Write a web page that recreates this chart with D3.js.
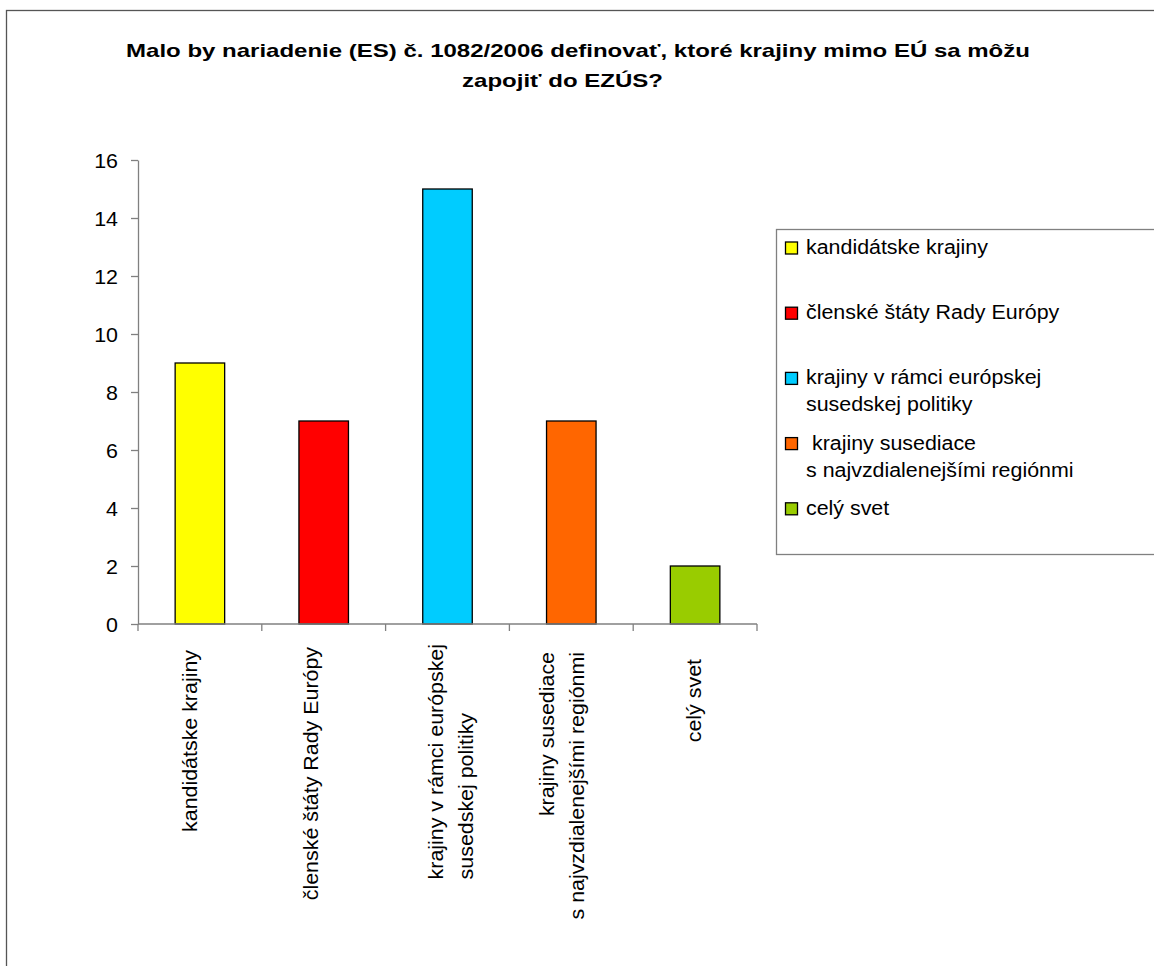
<!DOCTYPE html>
<html>
<head>
<meta charset="utf-8">
<script src="https://cdn.jsdelivr.net/npm/d3@7"></script>
<style>
  html, body { margin: 0; padding: 0; background: #fff; overflow: hidden; }
  svg { display: block; font-family: "Liberation Sans", Arial, sans-serif; }
  text { white-space: pre; }
</style>
</head>
<body>
<svg id="chart" width="1154" height="966"></svg>
<script>
// Data
const categories = ["kandidátske krajiny", "členské štáty Rady Európy", "krajiny v rámci európskej susedskej politiky", "krajiny susediace s najvzdialenejšími regiónmi", "celý svet"];
const values = [9, 7, 15, 7, 2];
const colors = ["#FFFF00", "#FF0000", "#00CCFF", "#FF6600", "#99CC00"];
const axisLabelLines = [
  ["kandidátske krajiny"],
  ["členské štáty Rady Európy"],
  ["krajiny v rámci európskej", "susedskej politiky"],
  ["krajiny susediace", "s najvzdialenejšími regiónmi"],
  ["celý svet"]
];
const legendLines = [
  ["kandidátske krajiny"],
  ["členské štáty Rady Európy"],
  ["krajiny v rámci európskej", "susedskej politiky"],
  [" krajiny susediace", "s najvzdialenejšími regiónmi"],
  ["celý svet"]
];
const yTicks = [0, 2, 4, 6, 8, 10, 12, 14, 16];
const titleLines = ["Malo by nariadenie (ES) č. 1082/2006 definovať, ktoré krajiny mimo EÚ sa môžu", "zapojiť do EZÚS?"];

// Layout
const plot = { left: 138, right: 757, top: 160, bottom: 624 };
const fontSize = 20;
const textStretch = 1.07;      // horizontal widening of body text glyphs
const titleFont = 19;
const titleStretch = 1.264;
const titleCenters = [578, 562.5];
// per-label placement tweaks for the rotated category labels
const labelLayout = [
  { dx: -2.5, top: 650, align: "end" },
  { dx: -5.5, top: 647, align: "end" },
  { dx: -5,   top: 644, align: "start" },
  { dx: -17,  top: 652, align: "end" },
  { dx: 6,    top: 659, align: "end" }
];

const svg = d3.select("#chart");

// outer frame
svg.append("rect")
  .attr("x", 6.5).attr("y", 10.5)
  .attr("width", 1300).attr("height", 1100)
  .attr("fill", "none").attr("stroke", "#555").attr("stroke-width", 1.3);

// title
svg.append("g").selectAll("text").data(titleLines).join("text")
  .attr("transform", (d, i) => `translate(${titleCenters[i]},${56.5 + i * 30}) scale(${titleStretch},1)`)
  .attr("text-anchor", "middle")
  .attr("font-weight", "bold").attr("font-size", titleFont)
  .attr("fill", "#000")
  .text(d => d);

const y = d3.scaleLinear().domain([0, 16]).range([plot.bottom, plot.top]);
const xCat = d3.scaleBand().domain(categories).range([plot.left, plot.right]).padding(0);
const xBar = d3.scaleBand().domain(categories).range([plot.left, plot.right])
  .paddingInner(0.6).paddingOuter(0.3);

// y axis
const yAxis = svg.append("g")
  .attr("transform", `translate(${plot.left},0)`)
  .call(d3.axisLeft(y).tickValues(yTicks).tickSize(7).tickPadding(13).tickSizeOuter(0));
yAxis.select(".domain").attr("stroke", "#808080").attr("stroke-width", 1.3);
yAxis.selectAll(".tick line").attr("stroke", "#808080").attr("stroke-width", 1.3);
yAxis.selectAll(".tick text")
  .attr("x", 0)
  .attr("transform", `translate(-20,0) scale(${textStretch},1)`)
  .attr("font-size", fontSize).attr("font-family", "Liberation Sans, Arial, sans-serif")
  .attr("fill", "#000").attr("dy", "0.36em");

// bars
svg.append("g").selectAll("rect").data(values).join("rect")
  .attr("x", (d, i) => xBar(categories[i]))
  .attr("y", d => y(d))
  .attr("width", xBar.bandwidth())
  .attr("height", d => y(0) - y(d))
  .attr("fill", (d, i) => colors[i])
  .attr("stroke", "#000").attr("stroke-width", 1.3);

// x axis line with category separators
const xg = svg.append("g");
xg.append("line")
  .attr("x1", plot.left).attr("x2", plot.right)
  .attr("y1", y(0)).attr("y2", y(0))
  .attr("stroke", "#808080").attr("stroke-width", 1.3);
const sepPositions = categories.map(c => xCat(c)).concat([plot.right]);
xg.selectAll("line.sep").data(sepPositions).join("line")
  .attr("class", "sep")
  .attr("x1", d => d).attr("x2", d => d)
  .attr("y1", y(0)).attr("y2", y(0) + 7)
  .attr("stroke", "#808080").attr("stroke-width", 1.3);

// rotated category labels
categories.forEach((c, i) => {
  const lay = labelLayout[i];
  const cx = xCat(c) + xCat.bandwidth() / 2 + lay.dx;
  const g = svg.append("g");
  const lines = axisLabelLines[i];
  const texts = g.selectAll("text").data(lines).join("text")
    .attr("transform", (d, j) => `translate(0,${j * 30}) scale(${textStretch},1)`)
    .attr("font-size", fontSize).attr("fill", "#000")
    .attr("text-anchor", lay.align)
    .text(d => d);
  let anchorY = lay.top;
  if (lay.align === "start") {
    let maxLen = 0;
    texts.each(function () { maxLen = Math.max(maxLen, this.getComputedTextLength() * textStretch); });
    anchorY = lay.top + maxLen;
  }
  g.attr("transform", `translate(${cx},${anchorY}) rotate(-90)`);
});

// legend
const legend = svg.append("g");
legend.append("rect")
  .attr("x", 776.5).attr("y", 229.5)
  .attr("width", 600).attr("height", 325)
  .attr("fill", "#fff").attr("stroke", "#808080").attr("stroke-width", 1.3);
legendLines.forEach((lines, i) => {
  const base = 254 + i * 65.2;
  legend.append("rect")
    .attr("x", 785.5).attr("y", base - 12)
    .attr("width", 12).attr("height", 12)
    .attr("fill", colors[i]).attr("stroke", "#000").attr("stroke-width", 1.3);
  legend.append("g").selectAll("text").data(lines).join("text")
    .attr("transform", (d, j) => `translate(806,${base + j * 27}) scale(${textStretch},1)`)
    .attr("font-size", fontSize).attr("fill", "#000")
    .text(d => d);
});
</script>
</body>
</html>
